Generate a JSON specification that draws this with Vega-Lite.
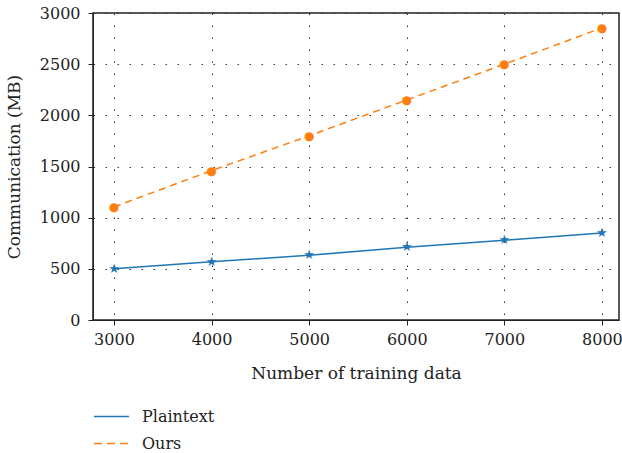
{
  "$schema": "https://vega.github.io/schema/vega-lite/v6.json",
  "width": 526,
  "height": 307,
  "autosize": {"type": "none"},
  "padding": {"left": 93, "top": 13, "right": 3, "bottom": 133},
  "background": "white",
  "config": {
    "font": "DejaVu Serif",
    "view": {"stroke": "#222", "strokeWidth": 1.5},
    "axis": {
      "labelFontSize": 16,
      "titleFontSize": 17,
      "labelColor": "#222",
      "titleColor": "#222",
      "titleFontWeight": "normal",
      "domainColor": "#222",
      "tickColor": "#222",
      "tickSize": 5,
      "grid": true,
      "gridColor": "#333",
      "gridDash": [1.5, 10.5]
    },
    "legend": {
      "labelFontSize": 16,
      "labelColor": "#222"
    }
  },
  "data": {
    "values": [
      {"n": 3000, "v": 500, "s": "Plaintext"},
      {"n": 4000, "v": 570, "s": "Plaintext"},
      {"n": 5000, "v": 632, "s": "Plaintext"},
      {"n": 6000, "v": 710, "s": "Plaintext"},
      {"n": 7000, "v": 780, "s": "Plaintext"},
      {"n": 8000, "v": 850, "s": "Plaintext"},
      {"n": 3000, "v": 1105, "s": "Ours"},
      {"n": 4000, "v": 1460, "s": "Ours"},
      {"n": 5000, "v": 1800, "s": "Ours"},
      {"n": 6000, "v": 2150, "s": "Ours"},
      {"n": 7000, "v": 2500, "s": "Ours"},
      {"n": 8000, "v": 2855, "s": "Ours"}
    ]
  },
  "encoding": {
    "x": {
      "field": "n", "type": "quantitative",
      "scale": {"domain": [2785, 8175], "nice": false, "zero": false},
      "axis": {"values": [3000, 4000, 5000, 6000, 7000, 8000], "labelExpr": "datum.value", "labelPadding": 6, "titlePadding": 18, "title": "Number of training data"}
    },
    "y": {
      "field": "v", "type": "quantitative",
      "scale": {"domain": [0, 3000], "nice": false},
      "axis": {"values": [0, 500, 1000, 1500, 2000, 2500, 3000], "labelExpr": "datum.value", "labelPadding": 8, "titlePadding": 16, "title": "Communication (MB)"}
    }
  },
  "layer": [
    {
      "transform": [{"filter": "datum.s === 'Plaintext'"}],
      "mark": {"type": "line", "strokeWidth": 1.5},
      "encoding": {
        "color": {"field": "s", "type": "nominal", "title": null, "scale": {"domain": ["Plaintext", "Ours"], "range": ["#1f77b4", "#ff7f0e"]},
          "legend": {"orient": "bottom", "direction": "vertical", "title": null, "symbolType": "stroke", "symbolSize": 1225, "symbolStrokeWidth": 1.5, "labelOffset": 12, "rowPadding": -7, "offset": 17, "padding": 0,
            "encode": {"symbols": {"update": {
              "strokeDash": {"signal": "datum.value === 'Plaintext' ? [] : [8, 5]"}
            }}}}}
      }
    },
    {
      "transform": [{"filter": "datum.s === 'Ours'"}],
      "mark": {"type": "line", "strokeWidth": 1.5, "strokeDash": [7, 5]},
      "encoding": {
        "color": {"field": "s", "type": "nominal", "title": null}
      }
    },
    {
      "transform": [{"filter": "datum.s === 'Plaintext'"}],
      "mark": {"type": "text", "text": "★", "font": "DejaVu Sans", "fontSize": 13, "align": "center", "baseline": "middle", "color": "#1f77b4"},
      "encoding": {}
    },
    {
      "transform": [{"filter": "datum.s === 'Ours'"}],
      "mark": {"type": "text", "text": "●", "font": "DejaVu Sans", "fontSize": 12, "align": "center", "baseline": "middle", "color": "#ff7f0e"},
      "encoding": {}
    }
  ]
}
